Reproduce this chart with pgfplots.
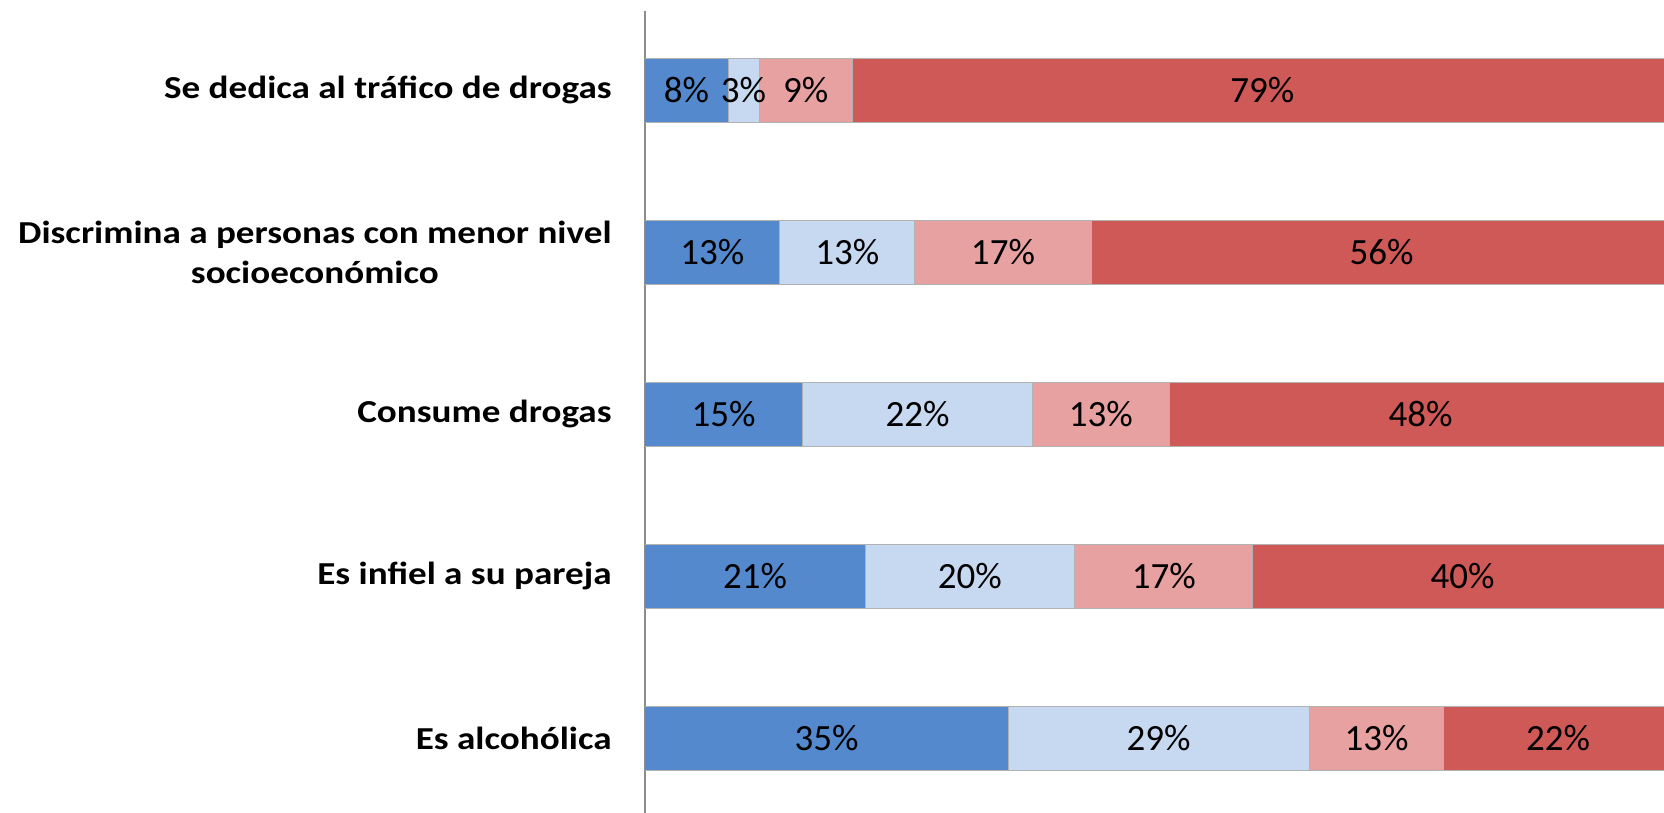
\documentclass[border=0pt]{standalone}
\usepackage{pgfplots}
\pgfplotsset{compat=1.18}
\usepackage{pgfplotstable}
\usepackage{fontspec}
\setmainfont{Carlito}
\newfontfamily\lblfont[FakeStretch=1.16]{Carlito}
\usetikzlibrary{calc}
\definecolor{cA}{RGB}{85,137,205}
\definecolor{cB}{RGB}{199,217,240}
\definecolor{cC}{RGB}{231,161,160}
\definecolor{cD}{RGB}{206,89,87}
\pgfplotstableread{
y a b c d
0 8 3 9 79
1 13 13 17 56
2 15 22 13 48
3 21 20 17 40
4 35 29 13 22
}\data
\def\S{(\thisrow{a}+\thisrow{b}+\thisrow{c}+\thisrow{d})}
\pgfplotsset{base/.style={width=509.5pt,height=401pt,scale only axis,
  xmin=0,xmax=99.2,ymin=-0.488,ymax=4.463,y dir=reverse,clip=false}}
\begin{document}
\begin{tikzpicture}
\begin{axis}[base, clip=true, name=ax, xbar stacked, bar width=32pt,
  axis x line=none, axis y line*=left,
  y axis line style={draw=black!45, line width=0.75pt},
  ytick={0,...,4}, major tick length=0pt,
  yticklabels={Se dedica al tráfico de drogas,{Discrimina a personas con menor nivel\\socioeconómico},Consume drogas,Es infiel a su pareja,Es alcohólica},
  yticklabel style={font=\lblfont\fontsize{16}{20}\selectfont\bfseries, align=center, inner sep=0pt, xshift=-16.5pt}]
\addplot[fill=cA, draw=black!30, line width=0.5pt] table[x expr={100*\thisrow{a}/\S},y=y]{\data};
\addplot[fill=cB, draw=black!30, line width=0.5pt] table[x expr={100*\thisrow{b}/\S},y=y]{\data};
\addplot[fill=cC, draw=black!30, line width=0.5pt] table[x expr={100*\thisrow{c}/\S},y=y]{\data};
\addplot[fill=cD, draw=black!30, line width=0.5pt] table[x expr={100*\thisrow{d}/\S},y=y]{\data};
\end{axis}
\begin{axis}[base, hide axis,
  nodes near coords={\pgfmathprintnumber[assume math mode=true]{\pgfplotspointmeta}\%},
  every node near coord/.style={anchor=center, font=\fontsize{18.5}{20}\selectfont, text=black}]
\addplot[draw=none, mark=none, point meta=explicit] table[x expr={100*(\thisrow{a}/2)/\S}, y=y, meta=a]{\data};
\addplot[draw=none, mark=none, point meta=explicit] table[x expr={100*(\thisrow{a}+\thisrow{b}/2)/\S}, y=y, meta=b]{\data};
\addplot[draw=none, mark=none, point meta=explicit] table[x expr={100*(\thisrow{a}+\thisrow{b}+\thisrow{c}/2)/\S}, y=y, meta=c]{\data};
\addplot[draw=none, mark=none, point meta=explicit] table[x expr={100*(\thisrow{a}+\thisrow{b}+\thisrow{c}+\thisrow{d}/2)/\S}, y=y, meta=d]{\data};
\end{axis}
\pgfresetboundingbox
\path[use as bounding box] ($(ax.south west)+(-322.5pt,0)$) rectangle ($(ax.north east)+(0,5.5pt)$);
\end{tikzpicture}
\end{document}
